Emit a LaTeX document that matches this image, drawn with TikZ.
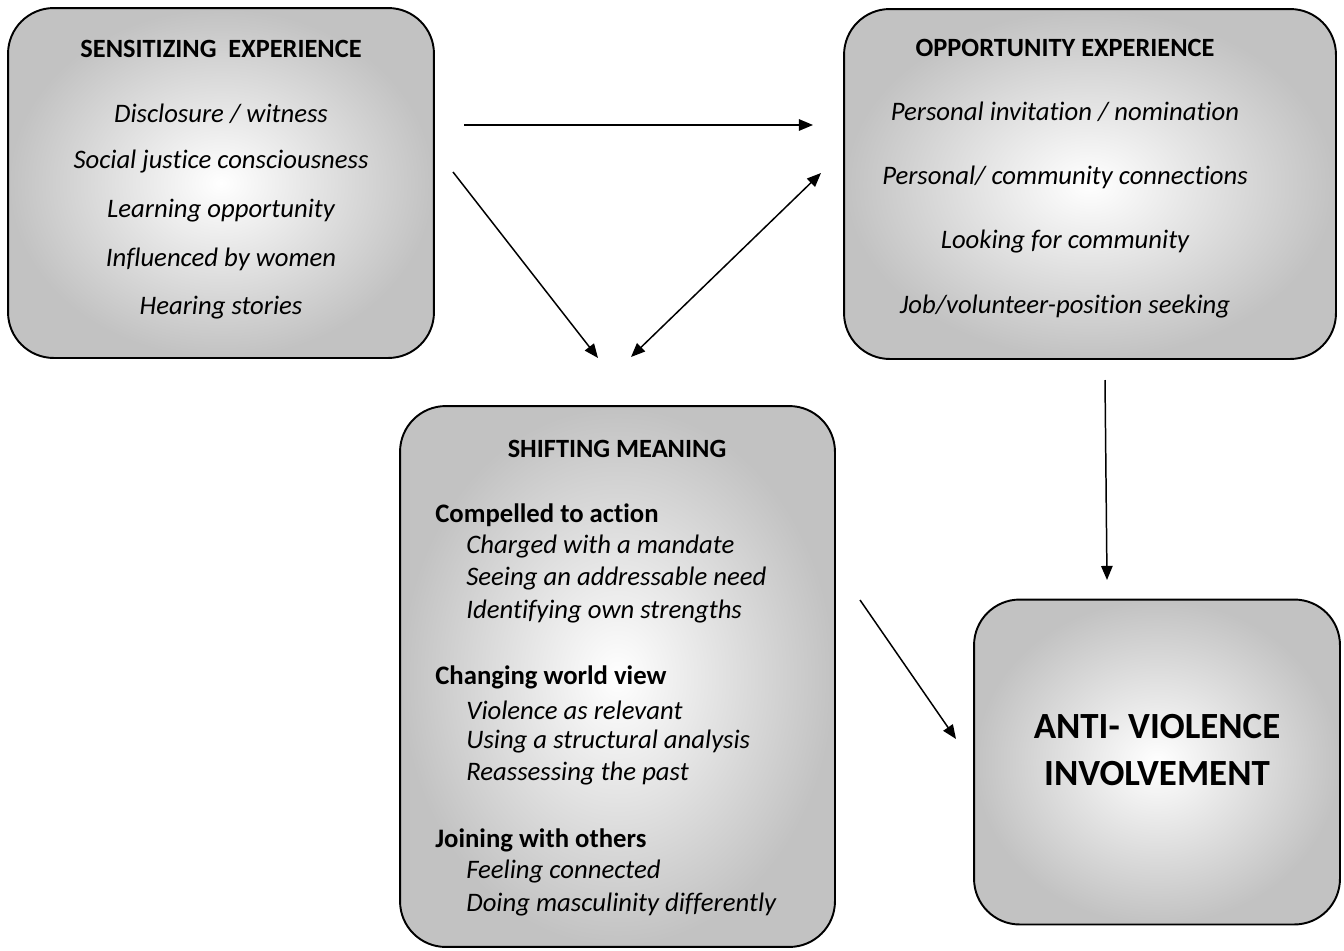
\documentclass[tikz,border=0pt]{standalone}
\usepackage{fontspec}
\setmainfont{Carlito}[Ligatures={NoCommon}]
\usetikzlibrary{arrows.meta}

\tikzset{
	stagebox/.style={draw=black, line width=1.1pt, rounded corners=26pt, shading=radial, inner color=white, outer color=black!24, inner sep=0pt},
	flow/.style={line width=0.85pt, -{Triangle[length=8pt, width=6.5pt]}},
	heading/.style={font=\fontsize{15}{17}\selectfont\bfseries, inner sep=0pt},
	item/.style={font=\fontsize{15.2}{17}\selectfont\itshape, inner sep=0pt},
	subhead/.style={font=\fontsize{15.2}{17}\selectfont\bfseries, inner sep=0pt, anchor=west},
	subitem/.style={font=\fontsize{15.2}{17}\selectfont\itshape, inner sep=0pt, anchor=west}
}

\begin{document}
\begin{tikzpicture}[x=0.02cm, y=-0.02cm]
	\useasboundingbox (0,0) rectangle (1344,950);
	% boxes
	\node [stagebox, minimum width=8.52cm, minimum height=7cm] (sens) at (221,183) {};
	\node [stagebox, minimum width=9.84cm, minimum height=7cm] (opp) at (1090,184) {};
	\node [stagebox, minimum width=8.7cm, minimum height=10.82cm] (shift) at (617.5,676.5) {};
	\node [stagebox, minimum width=7.32cm, minimum height=6.5cm] (anti) at (1157,762) {};

	% sensitizing experience
	\node [heading] (sens0) at (221,49) {SENSITIZING\ \ EXPERIENCE};
	\node [item] (sens1) at (221,114) {Disclosure / witness};
	\node [item] (sens2) at (221,162) {Social justice consciousness};
	\node [item] (sens3) at (221,211) {Learning opportunity};
	\node [item] (sens4) at (221,259) {Influenced by women};
	\node [item] (sens5) at (221,308) {Hearing stories};

	% opportunity experience
	\node [heading] (opp0) at (1065,48) {OPPORTUNITY EXPERIENCE};
	\node [item] (opp1) at (1065,112) {Personal invitation / nomination};
	\node [item] (opp2) at (1065,177) {Personal/ community connections};
	\node [item] (opp3) at (1065,242) {Looking for community};
	\node [item] (opp4) at (1065,307) {Job/volunteer-position seeking};

	% shifting meaning
	\node [heading] (shift0) at (617,449) {SHIFTING MEANING};
	\node [subhead] (act) at (435,515) {Compelled to action};
	\node [subitem] (act1) at (466,547) {Charged with a mandate};
	\node [subitem] (act2) at (466,579) {Seeing an addressable need};
	\node [subitem] (act3) at (466,612) {Identifying own strengths};
	\node [subhead] (view) at (435,677) {Changing world view};
	\node [subitem] (view1) at (466,710) {Violence as relevant};
	\node [subitem] (view2) at (466,742) {Using a structural analysis};
	\node [subitem] (view3) at (466,774) {Reassessing the past};
	\node [subhead] (join) at (435,840) {Joining with others};
	\node [subitem] (join1) at (466,872) {Feeling connected};
	\node [subitem] (join2) at (466,905) {Doing masculinity differently};

	% anti-violence involvement
	\node [font=\fontsize{21}{23}\selectfont\bfseries, align=center, inner sep=0pt] (anti0) at (1157,750) {ANTI- VIOLENCE\\[4pt]INVOLVEMENT};

	% arrow ends
	\coordinate (a1s) at (464,125);
	\coordinate (a1e) at (813,125);
	\coordinate (a2s) at (453,172);
	\coordinate (a2e) at (598,358);
	\coordinate (a3s) at (631,357);
	\coordinate (a3e) at (821,173);
	\coordinate (a4s) at (1105,380);
	\coordinate (a4e) at (1107,580);
	\coordinate (a5s) at (860,600);
	\coordinate (a5e) at (956,739);

	\draw [flow] (a1s) -- (a1e);
	\draw [flow] (a2s) -- (a2e);
	\draw [flow, {Triangle[length=8pt, width=6.5pt]}-{Triangle[length=8pt, width=6.5pt]}] (a3s) -- (a3e);
	\draw [flow] (a4s) -- (a4e);
	\draw [flow] (a5s) -- (a5e);
\end{tikzpicture}
\end{document}
